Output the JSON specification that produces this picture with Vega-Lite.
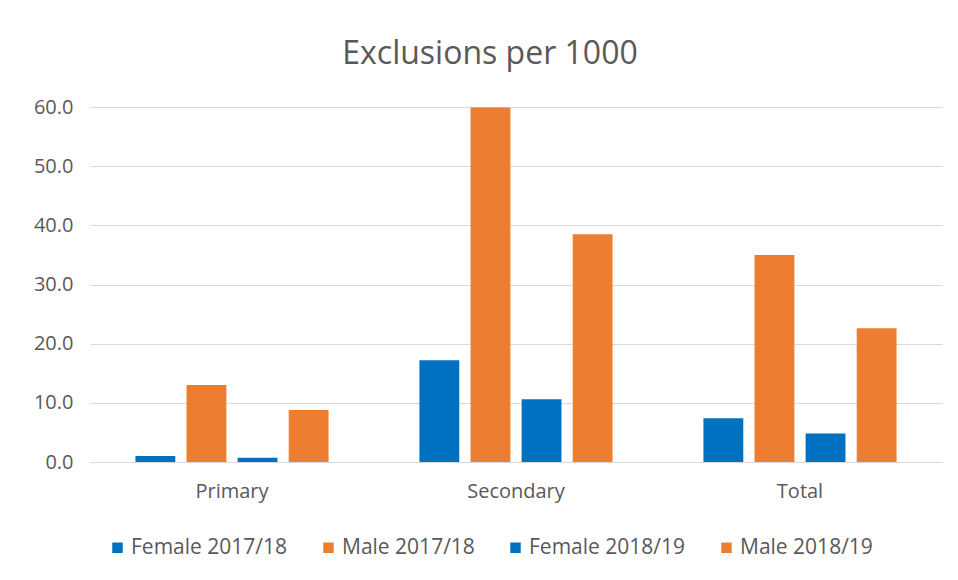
{
  "$schema": "https://vega.github.io/schema/vega-lite/v6.json",
  "autosize": {"type": "none"},
  "width": 852,
  "height": 355,
  "padding": {"left": 90, "top": 107, "right": 16, "bottom": 118},
  "background": "white",
  "title": {
    "text": "Exclusions per 1000",
    "fontSize": 32,
    "font": "Open Sans",
    "fontWeight": "normal",
    "color": "#595959",
    "anchor": "middle",
    "dx": -26,
    "offset": 26
  },
  "data": {
    "values": [
      {"category": "Primary", "series": "Female 2017/18", "value": 1.0},
      {"category": "Primary", "series": "Male 2017/18", "value": 13.0},
      {"category": "Primary", "series": "Female 2018/19", "value": 0.7},
      {"category": "Primary", "series": "Male 2018/19", "value": 8.8},
      {"category": "Secondary", "series": "Female 2017/18", "value": 17.2},
      {"category": "Secondary", "series": "Male 2017/18", "value": 59.9},
      {"category": "Secondary", "series": "Female 2018/19", "value": 10.6},
      {"category": "Secondary", "series": "Male 2018/19", "value": 38.5},
      {"category": "Total", "series": "Female 2017/18", "value": 7.4},
      {"category": "Total", "series": "Male 2017/18", "value": 35.0},
      {"category": "Total", "series": "Female 2018/19", "value": 4.8},
      {"category": "Total", "series": "Male 2018/19", "value": 22.6}
    ]
  },
  "mark": {"type": "bar"},
  "encoding": {
    "x": {
      "field": "category",
      "type": "nominal",
      "sort": ["Primary", "Secondary", "Total"],
      "scale": {"paddingInner": 0.32, "paddingOuter": 0.16},
      "axis": {
        "title": null,
        "labelAngle": 0,
        "labelFont": "Open Sans",
        "labelFontSize": 20,
        "labelColor": "#595959",
        "labelPadding": 19,
        "ticks": false,
        "domainColor": "#D9D9D9",
        "domainWidth": 1,
        "grid": false
      }
    },
    "xOffset": {
      "field": "series",
      "type": "nominal",
      "sort": ["Female 2017/18", "Male 2017/18", "Female 2018/19", "Male 2018/19"],
      "scale": {"paddingInner": 0.22, "paddingOuter": 0}
    },
    "y": {
      "field": "value",
      "type": "quantitative",
      "scale": {"domain": [0, 60], "nice": false},
      "axis": {
        "title": null,
        "values": [0, 10, 20, 30, 40, 50, 60],
        "format": ".1f",
        "labelFont": "Open Sans",
        "labelFontSize": 20,
        "labelColor": "#595959",
        "labelPadding": 17,
        "ticks": false,
        "domain": false,
        "gridColor": "#D9D9D9",
        "gridWidth": 1
      }
    },
    "color": {
      "field": "series",
      "type": "nominal",
      "sort": ["Female 2017/18", "Male 2017/18", "Female 2018/19", "Male 2018/19"],
      "scale": {
        "domain": ["Female 2017/18", "Male 2017/18", "Female 2018/19", "Male 2018/19"],
        "range": ["#0070C0", "#ED7D31", "#0070C0", "#ED7D31"]
      },
      "legend": {
        "title": null,
        "orient": "none",
        "legendX": 17,
        "legendY": 430,
        "direction": "horizontal",
        "columns": 4,
        "columnPadding": 30,
        "symbolType": "square",
        "symbolSize": 110,
        "symbolStrokeWidth": 0,
        "labelFont": "Open Sans",
        "labelFontSize": 21,
        "labelColor": "#595959",
        "labelOffset": 3
      }
    }
  },
  "config": {
    "view": {"stroke": null}
  }
}
